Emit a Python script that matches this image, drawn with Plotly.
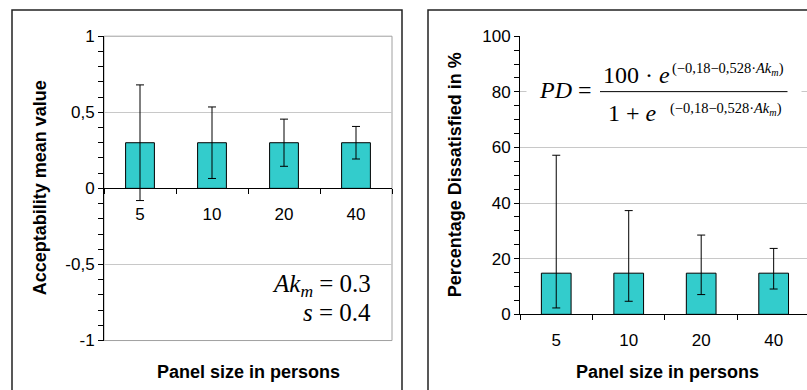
import plotly.graph_objects as go

W, H = 807, 390

# ---- data ----
panel_sizes = ["5", "10", "20", "40"]
acc_mean = [0.3, 0.3, 0.3, 0.3]
acc_err = [0.38, 0.235, 0.155, 0.107]
pd_mean = [14.8, 14.8, 14.8, 14.8]
pd_err_plus = [42.4, 22.5, 13.7, 8.9]
pd_err_minus = [12.5, 10.1, 7.7, 5.7]
left_ytick_vals = [-1, -0.5, 0, 0.5, 1]
left_ytick_text = ["-1", "-0,5", "0", "0,5", "1"]
right_ytick_vals = [0, 20, 40, 60, 80, 100]
right_ytick_text = ["0", "20", "40", "60", "80", "100"]

# the rendered page maps figure rows as  row = OFF + SC * y  -> compensate
OFF, SC = 10.0, 0.944


def fx(px):
    return px / W


def fy(py):
    return 1 - (py - OFF) / (SC * H)


BAR = "#33CCCC"
GRID = "#c8c8c8"
SANS = "Liberation Sans, Arial, sans-serif"
SERIF = "Liberation Serif, Times New Roman, serif"

fig = go.Figure()

fig.add_trace(go.Bar(
    x=panel_sizes, y=acc_mean, xaxis="x", yaxis="y", width=0.4,
    marker=dict(color=BAR, line=dict(color="#000", width=1)),
    error_y=dict(type="data", array=acc_err, color="#000", thickness=1, width=4),
    showlegend=False, hoverinfo="skip",
))
fig.add_trace(go.Bar(
    x=panel_sizes, y=pd_mean, xaxis="x2", yaxis="y2", width=0.41,
    marker=dict(color=BAR, line=dict(color="#000", width=1)),
    error_y=dict(type="data", symmetric=False, array=pd_err_plus, arrayminus=pd_err_minus,
                 color="#000", thickness=1, width=4),
    showlegend=False, hoverinfo="skip",
))

ly0, ly1 = fy(339), fy(37)
ry0, ry1 = fy(313), fy(37)
tickfont = dict(family=SANS, size=17, color="#000")

common_y = dict(showline=True, linecolor="#000", linewidth=1, ticks="outside", ticklen=5,
                tickcolor="#000", tickfont=tickfont, zeroline=False, gridcolor=GRID, gridwidth=1)

fig.update_layout(
    width=W, height=H, margin=dict(l=0, r=0, t=0, b=0),
    paper_bgcolor="white", plot_bgcolor="white", bargap=0.6,
    xaxis=dict(domain=[fx(104), fx(392)], anchor="free", position=(ly0 + ly1) / 2,
               type="category", range=[-0.5, 3.5], showline=True, linecolor="#000", linewidth=1,
               ticks="outside", ticklen=5, tickcolor="#000", tickson="boundaries",
               tickfont=tickfont, ticklabelstandoff=10, showgrid=False, zeroline=False),
    yaxis=dict(domain=[ly0, ly1], anchor="x", range=[-1, 1], tickvals=left_ytick_vals,
               ticktext=left_ytick_text, showgrid=True,
               minor=dict(dtick=0.1, tick0=0, ticks="outside", ticklen=5, tickcolor="#000", showgrid=False),
               **common_y),
    yaxis3=dict(overlaying="y", anchor="x", range=[-1, 1], tickvals=left_ytick_vals,
                showticklabels=False, showgrid=False, zeroline=False, showline=False,
                ticks="inside", ticklen=5, tickcolor="#000",
                minor=dict(dtick=0.1, tick0=0, ticks="inside", ticklen=5, tickcolor="#000")),
    xaxis2=dict(domain=[fx(520), 1.0], anchor="y2", type="category", range=[-0.5, 3.46],
                showline=True, linecolor="#000", linewidth=1,
                ticks="outside", ticklen=5, tickcolor="#000", tickson="boundaries",
                tickfont=tickfont, ticklabelstandoff=10, showgrid=False, zeroline=False),
    yaxis2=dict(domain=[ry0, ry1], anchor="x2", range=[0, 100], tickvals=right_ytick_vals,
                ticktext=right_ytick_text, showgrid=True,
                minor=dict(dtick=5, tick0=0, ticks="outside", ticklen=5, tickcolor="#000", showgrid=False),
                **common_y),
    yaxis4=dict(overlaying="y2", anchor="x2", range=[0, 100], tickvals=right_ytick_vals,
                showticklabels=False, showgrid=False, zeroline=False, showline=False,
                ticks="inside", ticklen=5, tickcolor="#000",
                minor=dict(dtick=5, tick0=0, ticks="inside", ticklen=5, tickcolor="#000")),
)

shapes = [
    # outer frames
    dict(type="rect", xref="paper", yref="paper", x0=fx(12), x1=fx(402), y0=-0.2, y1=fy(11),
         line=dict(color="#222", width=1.5), layer="above"),
    dict(type="rect", xref="paper", yref="paper", x0=fx(428), x1=1.1, y0=-0.2, y1=fy(11),
         line=dict(color="#222", width=1.5), layer="above"),
    # plot area border (left panel)
    dict(type="rect", xref="paper", yref="paper", x0=fx(104), x1=fx(392), y0=ly0, y1=ly1,
         line=dict(color="#a0a0a0", width=1), layer="below"),
]
fig.update_layout(shapes=shapes)

ann = []
# white box behind the formula (covers the 80 gridline)
ann.append(dict(text=" ", x=fx(664), y=fy(92), width=272, height=64, bgcolor="white",
                font=dict(size=10)))
# fraction bar (drawn as a headless arrow so it sits above the white box)
ann.append(dict(text="", x=fx(600), y=fy(92), ax=189, ay=0, showarrow=True, arrowhead=0,
                arrowwidth=1, arrowcolor="#000", standoff=0, startstandoff=0))
title_font = dict(family=SANS, size=18, color="#000")
ann.append(dict(text="<b>Acceptability mean value</b>", x=fx(40), y=fy(188), textangle=-90, font=title_font))
ann.append(dict(text="<b>Percentage Dissatisfied in %</b>", x=fx(455), y=fy(175), textangle=-90, font=title_font))
ann.append(dict(text="<b>Panel size in persons</b>", x=fx(248), y=fy(370), font=title_font))
ann.append(dict(text="<b>Panel size in persons</b>", x=fx(667), y=fy(370), font=title_font))

big = dict(family=SERIF, size=25, color="#000")
ann.append(dict(text="<i>Ak<sub>m</sub></i> = 0.3", x=fx(373), y=fy(284), xanchor="right", font=big))
ann.append(dict(text="<i>s</i> = 0.4", x=fx(373), y=fy(311), xanchor="right", font=big))

fbig = dict(family=SERIF, size=24, color="#000")
fexp = dict(family=SERIF, size=14.5, color="#000")
ann.append(dict(text="<i>PD</i> =", x=fx(594), y=fy(90), xanchor="right", font=fbig))
ann.append(dict(text="100 · <i>e</i>", x=fx(601), y=fy(75), xanchor="left", font=fbig))
ann.append(dict(text="(−0,18−0,528·<i>Ak<sub>m</sub></i>)", x=fx(670), y=fy(70), xanchor="left", font=fexp))
ann.append(dict(text="1 + <i>e</i>", x=fx(606), y=fy(113), xanchor="left", font=fbig))
ann.append(dict(text="(−0,18−0,528·<i>Ak<sub>m</sub></i>)", x=fx(668), y=fy(109), xanchor="left", font=fexp))

for a in ann:
    a.setdefault("xref", "paper")
    a.setdefault("yref", "paper")
    a.setdefault("showarrow", False)
    a.setdefault("xanchor", "center")
    a.setdefault("yanchor", "middle")
fig.update_layout(annotations=ann)

post = (
    "var s=document.createElement('style');"
    "s.textContent='html,body{margin:0!important;padding:0!important;overflow:hidden!important;}"
    ".plotly-graph-div{display:block;}';"
    "document.head.appendChild(s);"
)
fig.write_html("out.html", config={"displayModeBar": False}, post_script=post)
